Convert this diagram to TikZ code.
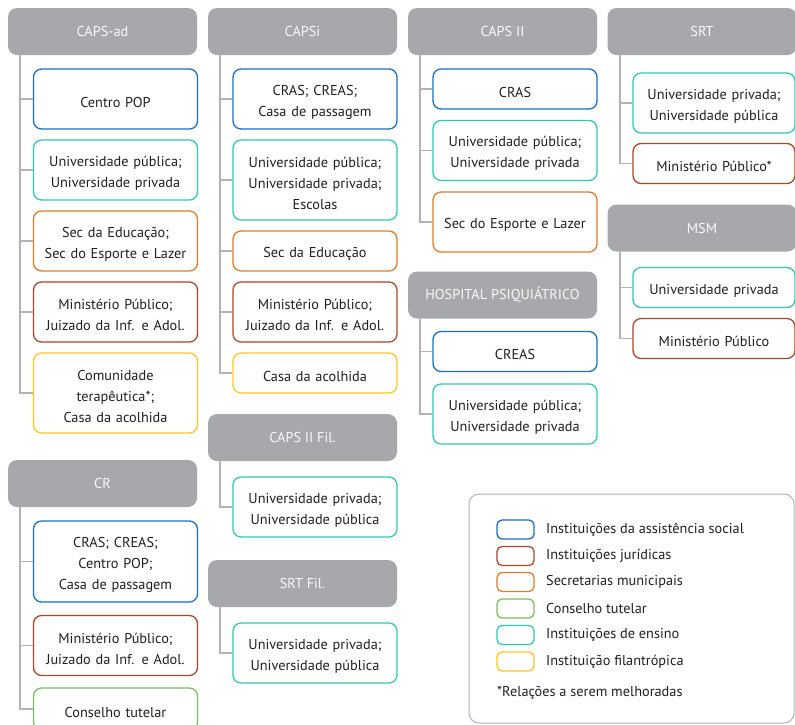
\documentclass[tikz,border=0pt]{standalone}
\usepackage{fontspec}
\setmainfont{PT Sans}
\definecolor{cblue}{HTML}{1B6EC2}
\definecolor{cbrown}{HTML}{A9472B}
\definecolor{corange}{HTML}{E07B2C}
\definecolor{cgreen}{HTML}{7DBB66}
\definecolor{cteal}{HTML}{33C7B0}
\definecolor{cyellow}{HTML}{FDC52A}
\definecolor{hgray}{HTML}{A7A8AB}
\definecolor{lgray}{HTML}{B3B3B3}
\definecolor{txt}{HTML}{231F20}
\begin{document}
\begin{tikzpicture}[x=1pt,y=-1pt,
  font=\fontsize{14.3}{21}\selectfont,
  hdr/.style={fill=hgray, rounded corners=9pt, minimum width=189pt, minimum height=47pt, text=white!93!hgray, inner sep=0pt},
  box/.style={draw=#1, line width=1.3pt, rounded corners=8pt, fill=white, minimum width=164pt, text width=160pt, align=center, inner sep=0pt, text=txt, execute at begin node={\rule{0pt}{16.5pt}}},
  conn/.style={draw=lgray, line width=1.4pt},
  swatch/.style={draw=#1, line width=1.3pt, rounded corners=5pt, minimum width=37pt, minimum height=19pt, inner sep=0pt},
  legtxt/.style={anchor=west, text=txt, inner sep=0pt},
]
\path[use as bounding box, clip] (0,0) rectangle (795,724);

% ---------- CAPS-ad ----------
\node[hdr] (h1) at (102.5,31.5) {CAPS-ad};
\node[box=cblue, minimum height=60pt] (a1) at (115.5,99) {Centro POP};
\node[box=cteal, minimum height=60pt] (a2) at (115.5,170) {Universidade pública;\\Universidade privada};
\node[box=corange, minimum height=60pt] (a3) at (115.5,241) {Sec da Educação;\\Sec do Esporte e Lazer};
\node[box=cbrown, minimum height=60pt] (a4) at (115.5,312) {Ministério Público;\\Juizado da Inf. e Adol.};
\node[box=cyellow, minimum height=80pt] (a5) at (115.5,393) {Comunidade\\terapêutica*;\\Casa da acolhida};
\coordinate (s1) at (20,55);
\draw[conn] (s1) |- (a5.west);
\foreach \n in {a1,a2,a3,a4} \draw[conn] (\n.west) -- (\n.west -| s1);

% ---------- CAPSi ----------
\node[hdr] (h2) at (302.5,31.5) {CAPSi};
\node[box=cblue, minimum height=60pt] (b1) at (315,99) {CRAS; CREAS;\\Casa de passagem};
\node[box=cteal, minimum height=80pt] (b2) at (315,180) {Universidade pública;\\Universidade privada;\\Escolas};
\node[box=corange, minimum height=40pt] (b3) at (315,251) {Sec da Educação};
\node[box=cbrown, minimum height=60pt] (b4) at (315,312) {Ministério Público;\\Juizado da Inf. e Adol.};
\node[box=cyellow, minimum height=40pt] (b5) at (315,373) {Casa da acolhida};
\coordinate (s2) at (220,55);
\draw[conn] (s2) |- (b5.west);
\foreach \n in {b1,b2,b3,b4} \draw[conn] (\n.west) -- (\n.west -| s2);

% ---------- CAPS II ----------
\node[hdr] (h3) at (502.5,31.5) {CAPS II};
\node[box=cblue, minimum height=40pt] (c1) at (515,89) {CRAS};
\node[box=cteal, minimum height=60pt] (c2) at (515,150.5) {Universidade pública;\\Universidade privada};
\node[box=corange, minimum height=60pt] (c3) at (515,222) {Sec do Esporte e Lazer};
\coordinate (s3) at (420,55);
\draw[conn] (s3) |- (c3.west);
\foreach \n in {c1,c2} \draw[conn] (\n.west) -- (\n.west -| s3);

% ---------- HOSPITAL PSIQUIATRICO ----------
\node[hdr] (h4) at (502.5,295) {HOSPITAL PSIQUIÁTRICO};
\node[box=cblue, minimum height=40pt] (d1) at (515,351.5) {CREAS};
\node[box=cteal, minimum height=60pt] (d2) at (515,414) {Universidade pública;\\Universidade privada};
\coordinate (s4) at (420,318.5);
\draw[conn] (s4) |- (d2.west);
\draw[conn] (d1.west) -- (d1.west -| s4);

% ---------- SRT ----------
\node[hdr] (h5) at (702,31.5) {SRT};
\node[box=cteal, minimum height=60pt, minimum width=162pt] (e1) at (714,103) {Universidade privada;\\Universidade pública};
\node[box=cbrown, minimum height=40pt, minimum width=162pt] (e2) at (714,163.5) {Ministério Público*};
\coordinate (s5) at (620,55);
\draw[conn] (s5) |- (e2.west);
\draw[conn] (e1.west) -- (e1.west -| s5);

% ---------- MSM ----------
\node[hdr] (h6) at (702,228) {MSM};
\node[box=cteal, minimum height=40pt, minimum width=162pt] (f1) at (714,287.5) {Universidade privada};
\node[box=cbrown, minimum height=40pt, minimum width=162pt] (f2) at (714,338.5) {Ministério Público};
\coordinate (s6) at (620,251.5);
\draw[conn] (s6) |- (f2.west);
\draw[conn] (f1.west) -- (f1.west -| s6);

% ---------- CAPS II Fil. ----------
\node[hdr] (h7) at (302.5,437.5) {CAPS II Fil.};
\node[box=cteal, minimum height=60pt] (g1) at (315,507) {Universidade privada;\\Universidade pública};
\coordinate (s7) at (220,461);
\draw[conn] (s7) |- (g1.west);

% ---------- SRT Fil. ----------
\node[hdr] (h8) at (302.5,583.5) {SRT Fil.};
\node[box=cteal, minimum height=60pt] (g2) at (315,653) {Universidade privada;\\Universidade pública};
\coordinate (s8) at (220,607);
\draw[conn] (s8) |- (g2.west);

% ---------- CR ----------
\node[hdr] (h9) at (102.5,483.5) {CR};
\node[box=cblue, minimum height=81pt] (k1) at (115.5,561.5) {CRAS; CREAS;\\Centro POP;\\Casa de passagem};
\node[box=cbrown, minimum height=60pt] (k2) at (115.5,645.5) {Ministério Público;\\Juizado da Inf. e Adol.};
\node[box=cgreen, minimum height=42pt] (k3) at (115.5,709) {Conselho tutelar};
\coordinate (s9) at (20,507);
\draw[conn] (s9) |- (k3.west);
\foreach \n in {k1,k2} \draw[conn] (\n.west) -- (\n.west -| s9);

% ---------- Legend ----------
\node[draw=lgray, line width=1pt, rounded corners=10pt, minimum width=325pt, minimum height=229pt, inner sep=0pt] (leg) at (631.5,608.5) {};
\node[swatch=cblue] (l1) at (515.5,529.5) {};
\node[swatch=cbrown] (l2) at (515.5,556) {};
\node[swatch=corange] (l3) at (515.5,582) {};
\node[swatch=cgreen] (l4) at (515.5,608.5) {};
\node[swatch=cteal] (l5) at (515.5,635) {};
\node[swatch=cyellow] (l6) at (515.5,661.5) {};
\node[legtxt] (t1) at (546,529.5) {Instituições da assistência social};
\node[legtxt] (t2) at (546,556) {Instituições jurídicas};
\node[legtxt] (t3) at (546,582) {Secretarias municipais};
\node[legtxt] (t4) at (546,608.5) {Conselho tutelar};
\node[legtxt] (t5) at (546,635) {Instituições de ensino};
\node[legtxt] (t6) at (546,661.5) {Instituição filantrópica};
\node[legtxt] (t7) at (497,693) {*Relações a serem melhoradas};
\end{tikzpicture}
\end{document}
